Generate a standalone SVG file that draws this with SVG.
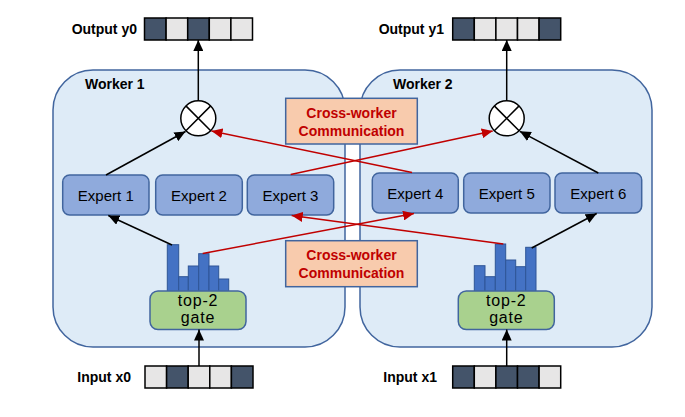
<svg xmlns="http://www.w3.org/2000/svg" width="685" height="417" viewBox="0 0 685 417">
<defs>
<style>
.worker{fill:#DEEBF7;stroke:#41659E;stroke-width:1.5}
.expert{fill:#8FAADC;stroke:#41659E;stroke-width:1.5}
.gate{fill:#A9D18E;stroke:#41659E;stroke-width:1.5}
.comm{fill:#F8CBAD;stroke:#41659E;stroke-width:1.5}
.bar{fill:#4472C4;stroke:#2F5597;stroke-width:1}
.dk{fill:#44546A;stroke:#000;stroke-width:1.5}
.lt{fill:#E7E6E6;stroke:#000;stroke-width:1.5}
.lbl{font-family:"Liberation Sans",Arial,sans-serif;font-weight:bold;font-size:14px;fill:#000}
.etx{font-family:"Liberation Sans",Arial,sans-serif;font-size:15px;fill:#000;text-anchor:middle}
.gtx{font-family:"Liberation Sans",Arial,sans-serif;font-size:16px;fill:#000;text-anchor:middle;letter-spacing:0.8px}
.ctx{font-family:"Liberation Sans",Arial,sans-serif;font-weight:bold;font-size:14px;fill:#C00000;text-anchor:middle}
.blk{stroke:#000;stroke-width:1.5;fill:none;marker-end:url(#ab)}
.red{stroke:#C00000;stroke-width:1.5;fill:none;marker-end:url(#ar)}
.mul{fill:#fff;stroke:#000;stroke-width:1.5}
</style>
<marker id="ab" markerUnits="userSpaceOnUse" markerWidth="12" markerHeight="10" refX="11" refY="5" orient="auto"><path d="M0,0 L11,5 L0,10 Z" fill="#000"/></marker>
<marker id="ar" markerUnits="userSpaceOnUse" markerWidth="12" markerHeight="10" refX="11" refY="5" orient="auto"><path d="M0,0 L11,5 L0,10 Z" fill="#C00000"/></marker>
</defs>
<rect width="685" height="417" fill="#fff"/>

<g id="worker1">
<rect class="worker" x="53" y="70" width="292" height="277" rx="40"/>
<text class="lbl" x="85" y="89">Worker 1</text>
</g>
<g id="worker2">
<rect class="worker" x="360" y="70" width="292" height="277" rx="40"/>
<text class="lbl" x="393" y="89">Worker 2</text>
</g>

<g id="output-y0">
<text class="lbl" x="137" y="34" text-anchor="end">Output y0</text>
<rect class="dk" x="144.5" y="18" width="21.6" height="22"/>
<rect class="lt" x="166.1" y="18" width="21.6" height="22"/>
<rect class="dk" x="187.7" y="18" width="21.6" height="22"/>
<rect class="lt" x="209.3" y="18" width="21.6" height="22"/>
<rect class="lt" x="230.9" y="18" width="21.6" height="22"/>
</g>
<g id="output-y1">
<text class="lbl" x="444" y="34" text-anchor="end">Output y1</text>
<rect class="dk" x="452.7" y="18" width="21.6" height="22"/>
<rect class="lt" x="474.3" y="18" width="21.6" height="22"/>
<rect class="lt" x="495.9" y="18" width="21.6" height="22"/>
<rect class="lt" x="517.5" y="18" width="21.6" height="22"/>
<rect class="dk" x="539.1" y="18" width="21.6" height="22"/>
</g>
<g id="input-x0">
<text class="lbl" x="131" y="382" text-anchor="end">Input x0</text>
<rect class="lt" x="145" y="366" width="21.6" height="22"/>
<rect class="dk" x="166.6" y="366" width="21.6" height="22"/>
<rect class="lt" x="188.2" y="366" width="21.6" height="22"/>
<rect class="lt" x="209.8" y="366" width="21.6" height="22"/>
<rect class="dk" x="231.4" y="366" width="21.6" height="22"/>
</g>
<g id="input-x1">
<text class="lbl" x="437" y="382" text-anchor="end">Input x1</text>
<rect class="dk" x="452.7" y="366" width="21.6" height="22"/>
<rect class="lt" x="474.3" y="366" width="21.6" height="22"/>
<rect class="dk" x="495.9" y="366" width="21.6" height="22"/>
<rect class="dk" x="517.5" y="366" width="21.6" height="22"/>
<rect class="lt" x="539.1" y="366" width="21.6" height="22"/>
</g>

<g id="hist1">
<rect class="bar" x="167.3" y="244.7" width="11.4" height="47"/>
<rect class="bar" x="178.7" y="276.7" width="9.6" height="15"/>
<rect class="bar" x="188.3" y="266" width="10.4" height="25.7"/>
<rect class="bar" x="198.7" y="253.7" width="10.3" height="38"/>
<rect class="bar" x="209" y="266" width="9.7" height="25.7"/>
<rect class="bar" x="218.7" y="279" width="10" height="12.7"/>
</g>
<g id="hist2">
<rect class="bar" x="474.3" y="265.7" width="10.7" height="26"/>
<rect class="bar" x="485" y="276.7" width="10.3" height="15"/>
<rect class="bar" x="495.3" y="244" width="10.4" height="47.7"/>
<rect class="bar" x="505.7" y="260" width="10" height="31.7"/>
<rect class="bar" x="515.7" y="266.7" width="10" height="25"/>
<rect class="bar" x="525.7" y="247.3" width="10.3" height="44.4"/>
</g>

<g id="gate1">
<rect class="gate" x="150" y="291" width="96" height="38.5" rx="8"/>
<text class="gtx" x="198" y="306">top-2</text>
<text class="gtx" x="198" y="323">gate</text>
</g>
<g id="gate2">
<rect class="gate" x="458.3" y="291" width="96" height="38.5" rx="8"/>
<text class="gtx" x="506.3" y="306">top-2</text>
<text class="gtx" x="506.3" y="323">gate</text>
</g>

<g id="expert1"><rect class="expert" x="62.7" y="175" width="86.3" height="40" rx="7"/><text class="etx" x="105.8" y="200.5">Expert 1</text></g>
<g id="expert2"><rect class="expert" x="155.7" y="175" width="86.6" height="40" rx="7"/><text class="etx" x="199" y="200.5">Expert 2</text></g>
<g id="expert3"><rect class="expert" x="247.3" y="175" width="86.4" height="40" rx="7"/><text class="etx" x="290.5" y="200.5">Expert 3</text></g>
<g id="expert4"><rect class="expert" x="372.3" y="173" width="86" height="40" rx="7"/><text class="etx" x="415.3" y="198.5">Expert 4</text></g>
<g id="expert5"><rect class="expert" x="463.7" y="173" width="86.3" height="40" rx="7"/><text class="etx" x="506.8" y="198.5">Expert 5</text></g>
<g id="expert6"><rect class="expert" x="555" y="173" width="86.7" height="40" rx="7"/><text class="etx" x="598.3" y="198.5">Expert 6</text></g>

<g id="mul1">
<circle class="mul" cx="198.3" cy="118.3" r="17.5"/>
<path d="M185.9,105.9 L210.7,130.7 M210.7,105.9 L185.9,130.7" stroke="#000" stroke-width="1.5"/>
</g>
<g id="mul2">
<circle class="mul" cx="506.7" cy="118.3" r="17.5"/>
<path d="M494.3,105.9 L519.1,130.7 M519.1,105.9 L494.3,130.7" stroke="#000" stroke-width="1.5"/>
</g>

<g id="connectors">
<line class="blk" x1="198.3" y1="100.8" x2="198.3" y2="40"/>
<line class="blk" x1="506.7" y1="100.8" x2="506.7" y2="40"/>
<line class="blk" x1="199" y1="366" x2="199" y2="329.5"/>
<line class="blk" x1="506.7" y1="366" x2="506.7" y2="329.5"/>
<line class="blk" x1="106" y1="175" x2="185.5" y2="131.5"/>
<line class="blk" x1="598.3" y1="173" x2="519.8" y2="131.3"/>
<line class="blk" x1="172" y1="245" x2="108.3" y2="215.5"/>
<line class="blk" x1="531.7" y1="248" x2="596.7" y2="213.5"/>
<line class="red" x1="412" y1="172.5" x2="211.5" y2="131"/>
<line class="red" x1="290.7" y1="174.5" x2="492.7" y2="131"/>
<line class="red" x1="202.7" y1="253.5" x2="414" y2="213.5"/>
<line class="red" x1="503.3" y1="244" x2="291.7" y2="215.5"/>
</g>

<g id="comm1">
<rect class="comm" x="285.7" y="98.3" width="131.6" height="45.7"/>
<text class="ctx" x="351.5" y="117.8">Cross-worker</text>
<text class="ctx" x="351.5" y="135.5">Communication</text>
</g>
<g id="comm2">
<rect class="comm" x="285.7" y="240.7" width="131.6" height="46"/>
<text class="ctx" x="351.5" y="260">Cross-worker</text>
<text class="ctx" x="351.5" y="277.7">Communication</text>
</g>
</svg>
